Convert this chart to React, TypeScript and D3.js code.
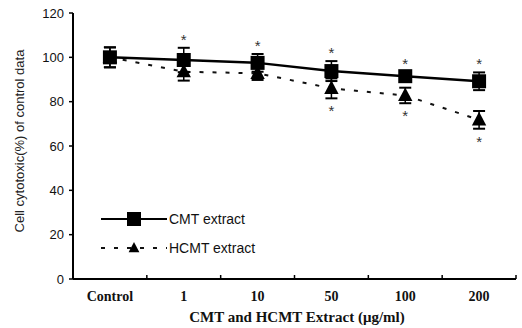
import React from "react";
import * as d3 from "d3";

const categories = ["Control", "1", "10", "50", "100", "200"];
const cmtValues = [100, 98.8, 97.5, 93.8, 91.5, 89.2];
const cmtErrors = [4.5, 5.5, 4, 4.5, 2, 4];
const hcmtValues = [100, 93.5, 92.8, 86, 82.8, 71.8];
const hcmtErrors = [4.5, 4, 3, 4.5, 3.5, 4];
const cmtStar = [false, true, true, true, true, true];
const hcmtStar = [false, false, false, true, true, true];
const yTicks = [0, 20, 40, 60, 80, 100, 120];

const W = 522, H = 328;
const left = 73, right = 516, top = 13, bottom = 279;

export default function App() {
  const x = d3.scaleBand<string>().domain(categories).range([left, right]);
  const y = d3.scaleLinear().domain([0, 120]).range([bottom, top]);
  const cx = (i: number) => (x(categories[i]) as number) + x.bandwidth() / 2;
  const line = d3.line<number>().x((_, i) => cx(i)).y((v) => y(v));
  const sans = "Arial, 'Liberation Sans', sans-serif";
  const serif = "'Times New Roman', 'Liberation Serif', serif";
  const tri = (px: number, py: number, s: number) =>
    `M${px},${py - s} L${px + s * 0.9},${py + s * 0.7} L${px - s * 0.9},${py + s * 0.7} Z`;
  const star = (px: number, py: number, k: string) => (
    <text key={k} x={px} y={py + 6} textAnchor="middle" fontFamily={sans} fontSize={15} fill="#333">*</text>
  );
  return (
    <svg width={W} height={H} style={{ position: "absolute", left: 0, top: 0, background: "#fff" }}>
      {/* axes */}
      <line x1={left} y1={top} x2={left} y2={bottom} stroke="#000" strokeWidth={2} />
      <line x1={left} y1={bottom} x2={right} y2={bottom} stroke="#000" strokeWidth={2} />
      {yTicks.map((t) => (
        <g key={t}>
          <line x1={left - 4} x2={left} y1={y(t)} y2={y(t)} stroke="#000" strokeWidth={1.5} />
          <text x={left - 9} y={y(t) + 4.5} textAnchor="end" fontFamily={sans} fontSize={13} fill="#111">{t}</text>
        </g>
      ))}
      {categories.map((c, i) => {
        const bx = (x(c) as number) + x.bandwidth();
        return <line key={"xt" + i} x1={bx} x2={bx} y1={bottom} y2={bottom - 4} stroke="#000" strokeWidth={1.5} />;
      })}
      {categories.map((c, i) => (
        <text key={"xl" + i} x={cx(i)} y={301} textAnchor="middle" fontFamily={serif} fontWeight="bold" fontSize={14} fill="#111">{c}</text>
      ))}
      <text x={297} y={322} textAnchor="middle" fontFamily={serif} fontWeight="bold" fontSize={15} fill="#111">CMT and HCMT Extract (μg/ml)</text>
      <text transform={`translate(24,${(top + bottom) / 2 - 5}) rotate(-90)`} textAnchor="middle" fontFamily={sans} fontSize={13} fill="#222">Cell cytotoxic(%) of control data</text>

      {/* HCMT dashed */}
      <path d={line(hcmtValues) as string} fill="none" stroke="#111" strokeWidth={2} strokeDasharray="4,9" />
      {/* CMT solid */}
      <path d={line(cmtValues) as string} fill="none" stroke="#000" strokeWidth={2.5} />

      {hcmtValues.map((v, i) => {
        const px = cx(i), e = hcmtErrors[i];
        return (
          <g key={"h" + i}>
            <line x1={px} x2={px} y1={y(v + e)} y2={y(v - e)} stroke="#000" strokeWidth={1.5} />
            <line x1={px - 6} x2={px + 6} y1={y(v + e)} y2={y(v + e)} stroke="#000" strokeWidth={2} />
            <line x1={px - 6} x2={px + 6} y1={y(v - e)} y2={y(v - e)} stroke="#000" strokeWidth={2} />
            <path d={tri(px, y(v), 8)} fill="#000" />
            {hcmtStar[i] && star(px, y(v - e) + 12, "hs" + i)}
          </g>
        );
      })}
      {cmtValues.map((v, i) => {
        const px = cx(i), e = cmtErrors[i];
        return (
          <g key={"c" + i}>
            <line x1={px} x2={px} y1={y(v + e)} y2={y(v - e)} stroke="#000" strokeWidth={1.5} />
            <line x1={px - 6} x2={px + 6} y1={y(v + e)} y2={y(v + e)} stroke="#000" strokeWidth={2} />
            <line x1={px - 6} x2={px + 6} y1={y(v - e)} y2={y(v - e)} stroke="#000" strokeWidth={2} />
            <rect x={px - 7} y={y(v) - 7} width={14} height={14} fill="#000" />
            {cmtStar[i] && star(px, y(v + e) - 9, "cs" + i)}
          </g>
        );
      })}

      {/* legend */}
      <line x1={101} x2={167} y1={219} y2={219} stroke="#000" strokeWidth={2} />
      <rect x={127} y={212} width={14} height={14} fill="#000" />
      <text x={169} y={224} fontFamily={sans} fontSize={14} fill="#111">CMT extract</text>
      <line x1={101} x2={167} y1={248} y2={248} stroke="#111" strokeWidth={2} strokeDasharray="4,9" />
      <path d={tri(134, 248, 6)} fill="#000" />
      <text x={169} y={253} fontFamily={sans} fontSize={14} fill="#111">HCMT extract</text>
    </svg>
  );
}
